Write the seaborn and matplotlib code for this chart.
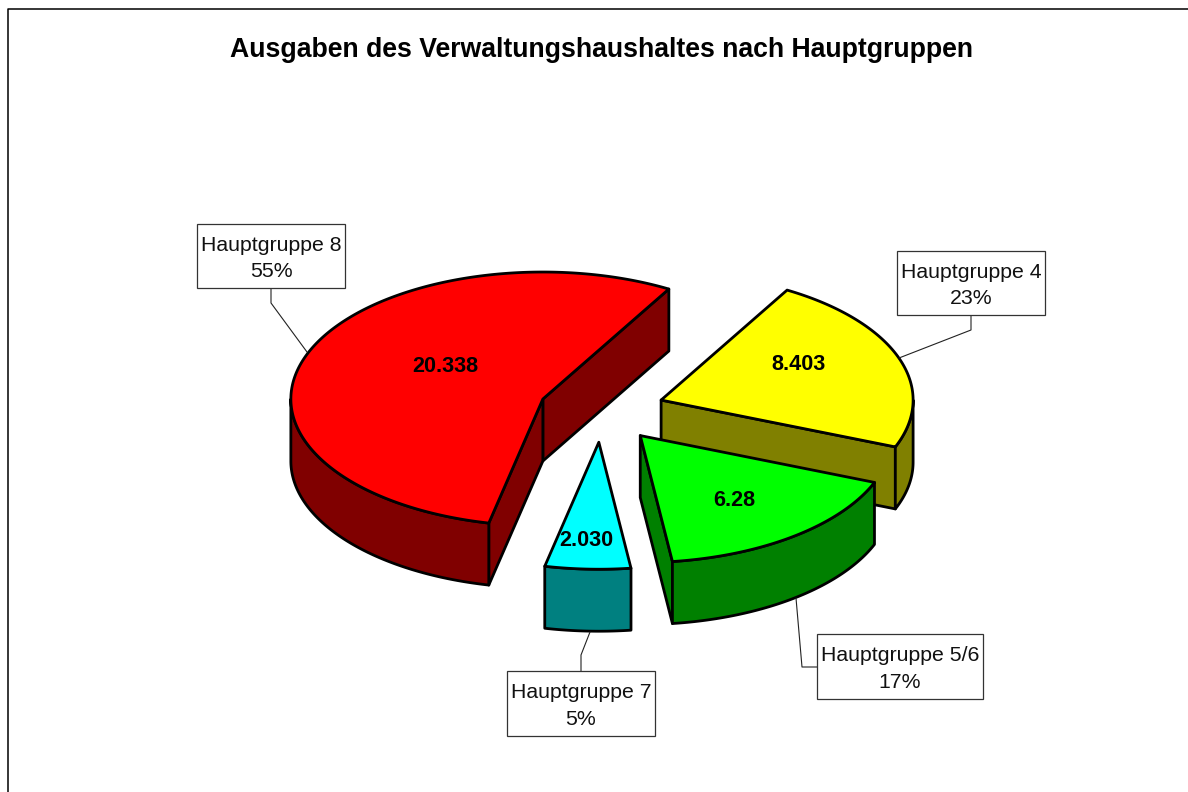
"""
Ausgaben des Verwaltungshaushaltes nach Hauptgruppen - exploded pseudo 3D pie
"""

import numpy as np
import matplotlib.pyplot as plt
import seaborn as sns

# data, in the order the pie goes round counterclockwise
GROUPS = ["Hauptgruppe 8", "Hauptgruppe 7", "Hauptgruppe 5/6", "Hauptgruppe 4"]
VALUES = [20338, 2030, 6280, 8403]
VALUE_LABELS = ["20.338", "2.030", "6.28", "8.403"]
PERCENT_LABELS = ["55%", "5%", "17%", "23%"]
TOP_COLORS = ["#ff0000", "#00ffff", "#00ff00", "#ffff00"]
SIDE_COLORS = ["#800000", "#008080", "#008000", "#808000"]
TITLE = "Ausgaben des Verwaltungshaushaltes nach Hauptgruppen"

# layout, everything in image pixels
W, H = 1188, 792
CENTER = (601.6, 410.5)
RX, RY = 252, 127
DEPTH = 62
EXPLODE = 0.25
START_ANGLE = 60
DRAW_ORDER = [3, 0, 1, 2]  # back to front
VALUE_POS = [(445, 367), (586, 540), (734, 501), (798, 365)]
BOXES = [(197, 224, 148, 64), (507, 671, 148, 65), (817, 634, 166, 65), (897, 251, 148, 64)]
LEADERS = [
    [(271, 288), (271, 303), (307, 352)],
    [(581, 671), (581, 655), (590, 632)],
    [(817, 667), (802, 667), (796, 598)],
    [(971, 315), (971, 330), (899, 358)],
]


def wedge_angles(values: list, start: float) -> list:
    """Start and end angle (degrees) of each slice."""
    sweeps = 360 * np.array(values) / np.sum(values)
    ends = start + np.cumsum(sweeps)
    return list(zip(ends - sweeps, ends))


def rim(cx: float, cy: float, a0: float, a1: float) -> np.ndarray:
    """Points along the ellipse arc between two angles, y pointing down."""
    t = np.radians(np.linspace(a0, a1, max(int(abs(a1 - a0)) * 2, 2)))
    return np.column_stack([cx + RX * np.cos(t), cy - RY * np.sin(t)])


def draw_slice(ax, a0: float, a1: float, top: str, side: str) -> None:
    """Draws one exploded slice: cut faces, outer wall, then the top."""
    mid = np.radians((a0 + a1) / 2)
    cx = CENTER[0] + EXPLODE * RX * np.cos(mid)
    cy = CENTER[1] - EXPLODE * RY * np.sin(mid)
    style = dict(facecolor=side, edgecolor="black", linewidth=2.0, joinstyle="round")
    down = np.array([0, DEPTH])
    apex = np.array([cx, cy])

    # radial cut faces, only when they turn to the viewer
    for angle, normal in ((a0, a0 - 90), (a1, a1 + 90)):
        if np.sin(np.radians(normal)) < 0:
            edge = rim(cx, cy, angle, angle)[0]
            ax.fill(*np.array([apex, edge, edge + down, apex + down]).T, **style)

    # outer wall is the part of the rim on the front half
    for k in (0, 1):
        lo, hi = max(a0, 180 + 360 * k), min(a1, 360 + 360 * k)
        if lo < hi:
            arc = rim(cx, cy, lo, hi)
            ax.fill(*np.vstack([arc, (arc + down)[::-1]]).T, **style)

    outline = np.vstack([apex, rim(cx, cy, a0, a1)])
    ax.fill(*outline.T, facecolor=top, edgecolor="black", linewidth=2.0, joinstyle="round")


sns.set_theme(style="white")
plt.rcParams["font.family"] = ["Liberation Sans", "DejaVu Sans"]

fig = plt.figure(figsize=(W / 100, H / 100), dpi=100)
ax = fig.add_axes([0, 0, 1, 1])
ax.set_xlim(0, W)
ax.set_ylim(H, 0)
ax.axis("off")

# chart frame, only its left and top side fall inside the picture
ax.plot([8, 8, W], [H, 8.5, 8.5], color="black", linewidth=1.1)

ax.text(601.5, 50, TITLE, ha="center", va="center", fontsize=19.2, fontweight="bold", color="black")

angles = wedge_angles(VALUES, START_ANGLE)
for i in DRAW_ORDER:
    draw_slice(ax, angles[i][0], angles[i][1], TOP_COLORS[i], SIDE_COLORS[i])

for label, pos in zip(VALUE_LABELS, VALUE_POS):
    ax.text(pos[0], pos[1], label, ha="center", va="center", fontsize=15.6, fontweight="bold", color="black")

for group, pct, box, leader in zip(GROUPS, PERCENT_LABELS, BOXES, LEADERS):
    ax.plot(*np.array(leader).T, color="#222222", linewidth=0.8)
    x, y, w, h = box
    ax.add_patch(plt.Rectangle((x, y), w, h, facecolor="white", edgecolor="#333333", linewidth=0.9, zorder=3))
    ax.text(x + w / 2, y + h / 2 + 2.5, group + "\n" + pct, ha="center", va="center", fontsize=15.3,
            linespacing=1.5, color="#111111", zorder=4)

fig.savefig("out.png", dpi=100)
plt.close(fig)
